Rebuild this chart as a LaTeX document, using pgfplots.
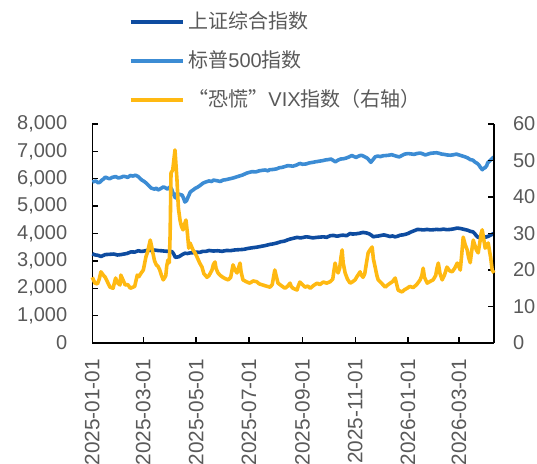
\documentclass[border=0pt]{standalone}
\usepackage{fontspec}
\setmainfont{Liberation Sans}
\newfontfamily\cjk{Noto Sans CJK SC}
\usepackage{pgfplots}
\pgfplotsset{compat=1.18}
\definecolor{sseblue}{RGB}{14,76,160}
\definecolor{spxblue}{RGB}{60,140,212}
\definecolor{vixyellow}{RGB}{255,185,18}
\definecolor{labelgray}{RGB}{89,89,89}
\pgfplotsset{
  common/.style={
    scale only axis, width=200.85pt, height=109.5pt,
    at={(0,0)}, anchor=south west,
    xmin=0, xmax=464.4,
    tick align=inside, major tick length=3pt,
    axis line style={-, line width=0.7pt, black},
    tick style={line width=0.7pt, black},
    ticklabel style={font=\fontsize{10}{12}\selectfont, text=labelgray},
    /pgf/number format/assume math mode=true,
    scaled ticks=false, clip=false,
  },
  sse/.style={color=sseblue, line width=1.8pt, line join=round},
  spx/.style={color=spxblue, line width=1.8pt, line join=round},
  vix/.style={color=vixyellow, line width=1.8pt, line join=round},
}
\begin{document}
\begin{tikzpicture}
\begin{axis}[common,
  ymin=0, ymax=8000, ytick={0,1000,...,8000},
  axis x line*=bottom, axis y line*=left,
  xtick={0,59,120,181,243,304,365,424},
  xticklabels={2025-01-01,2025-03-01,2025-05-01,2025-07-01,2025-09-01,2025-11-01,2026-01-01,2026-03-01},
  xticklabel style={rotate=90, anchor=east, xshift=-4.5pt, font=\fontsize{10.4}{12}\selectfont},
  yticklabel style={/pgf/number format/fixed, /pgf/number format/1000 sep={,}, xshift=-9pt},
]
\addplot[sse] coordinates {
(0,3260) (3,3220) (7,3200) (10,3160) (15,3230) (20,3240) (25,3250) (29,3215) (33,3230) (40,3270) (45,3330) (49,3320) (53,3370) (57,3345) (60,3360) (64,3390) (67,3380) (70,3400) (73,3390) (77,3375) (80,3370) (84,3355) (87,3350) (90,3345) (92,3340) (94,3260) (96,3130) (100,3150) (104,3230) (107,3280) (110,3270) (113,3290) (117,3300) (120,3320) (124,3310) (128,3350) (131,3345) (135,3380) (140,3360) (145,3370) (150,3350) (155,3380) (160,3375) (165,3400) (170,3410) (175,3420) (180,3455) (185,3480) (190,3500) (195,3530) (200,3560) (205,3600) (209,3620) (213,3650) (218,3700) (222,3720) (226,3770) (229,3800) (233,3830) (237,3860) (240,3840) (243,3850) (247,3880) (250,3870) (255,3840) (260,3860) (264,3870) (267,3880) (271,3860) (275,3920) (279,3930) (283,3900) (287,3930) (290,3940) (294,3920) (298,4000) (301,3980) (305,3990) (309,4010) (313,4040) (317,4020) (320,3990) (323,3930) (325,3880) (328,3900) (331,3910) (334,3930) (337,3950) (341,3920) (344,3890) (347,3910) (350,3880) (353,3900) (356,3940) (359,3950) (362,3970) (365,4000) (368,4050) (372,4100) (376,4150) (380,4140) (383,4130) (387,4150) (391,4130) (395,4140) (398,4150) (402,4140) (406,4160) (410,4140) (414,4150) (418,4170) (422,4200) (426,4180) (430,4150) (434,4120) (437,4080) (440,4060) (442,4000) (444,3920) (446,3860) (449,3870) (452,3880) (455,3870) (458,3900) (461,3950) (464,4000)
};
\addplot[spx] coordinates {
(0,5880) (2,5900) (4,5920) (7,5850) (9,5880) (11,5950) (13,5990) (15,6060) (18,6020) (20,6000) (23,6050) (27,6080) (30,6030) (33,6050) (36,6090) (38,6080) (41,6050) (44,6120) (47,6100) (50,6130) (53,6080) (55,6020) (57,5960) (60,5900) (62,5850) (65,5760) (68,5660) (70,5640) (72,5620) (74,5660) (76,5590) (79,5640) (82,5700) (84,5680) (87,5620) (90,5710) (92,5600) (93,5500) (96,5300) (97,5460) (99,5450) (102,5420) (104,5400) (106,5250) (107,5150) (109,5200) (110,5280) (112,5420) (113,5500) (115,5560) (117,5600) (119,5650) (121,5680) (124,5740) (128,5840) (131,5880) (135,5920) (138,5900) (140,5950) (144,5930) (148,5900) (151,5950) (155,5970) (159,6000) (163,6030) (166,6060) (170,6100) (174,6140) (178,6200) (181,6230) (185,6260) (189,6250) (193,6290) (197,6310) (200,6320) (203,6290) (205,6330) (209,6340) (213,6360) (216,6400) (220,6420) (223,6450) (226,6480) (229,6470) (232,6460) (236,6500) (240,6560) (243,6530) (247,6540) (251,6580) (255,6600) (258,6620) (262,6640) (266,6660) (270,6690) (273,6700) (276,6720) (279,6660) (281,6620) (284,6680) (287,6720) (290,6730) (293,6750) (297,6800) (300,6850) (302,6820) (305,6780) (308,6830) (311,6860) (314,6820) (318,6750) (320,6680) (322,6600) (324,6680) (327,6800) (330,6830) (333,6810) (336,6840) (340,6850) (343,6860) (346,6880) (349,6850) (352,6820) (355,6800) (358,6850) (361,6900) (365,6920) (368,6910) (372,6890) (375,6920) (379,6940) (382,6910) (385,6870) (388,6900) (391,6930) (394,6940) (398,6950) (401,6930) (404,6900) (407,6890) (410,6870) (414,6860) (418,6880) (421,6900) (425,6860) (428,6830) (431,6800) (434,6760) (437,6700) (440,6680) (442,6620) (445,6560) (447,6500) (449,6400) (451,6330) (452,6380) (454,6400) (456,6480) (457,6580) (459,6640) (461,6700) (463,6760) (464.4,6800)
};
\end{axis}
\begin{axis}[common,
  ymin=0, ymax=60, ytick={0,10,...,60},
  axis x line=none, axis y line*=right,
  yticklabel style={xshift=6pt},
  legend style={at={(0.075,1.55)}, anchor=north west, draw=none, fill=none,
    font=\fontsize{10}{12}\selectfont, text=labelgray, row sep=5.5pt},
  legend cell align=left,
  legend image code/.code={\draw[#1] (0pt,0pt) -- (26pt,0pt);},
]
\addlegendimage{sse}
\addlegendentry{{\cjk 上证综合指数}}
\addlegendimage{spx}
\addlegendentry{{\cjk 标普}500{\cjk 指数}}
\addplot[vix] coordinates {
(0,18) (3,16.4) (6,16.2) (8,17.5) (10,19.5) (13,18.5) (15,18) (18,16.5) (20.5,15.3) (24,15) (27,17.8) (29,16.5) (32,15.9) (33,18.6) (36,17) (38,15.9) (41,16) (44,15) (47,15.3) (49,15.5) (52,18.6) (54,18.2) (56,19) (59,20) (62,23.6) (64,25) (67,28.2) (69,26) (70,24.7) (72,22.5) (74,21.4) (76,21) (78,20) (80,18.5) (82,17.3) (84,18) (85,18.5) (86,21) (87.4,22.7) (89,22) (90,30) (91,46.6) (93,47.4) (95.6,52.9) (97.9,44.7) (99.5,37) (101.4,33.7) (103,32) (104.9,31) (106.5,32.5) (108.3,33.7) (110,30) (111.5,26) (113,27.4) (116.4,25.5) (118.7,24.7) (121,23.6) (124,22) (126.8,20.8) (129,19) (132.6,18) (135,18.5) (138.4,20) (140,21.5) (141.9,22.2) (143,20.5) (145.3,19.2) (148,18.5) (151,18) (154,17.6) (157,17.3) (160,18) (162.7,21.4) (165,20) (167.3,19.2) (169,20.5) (170.8,21.9) (172,19.5) (174.2,17.3) (178,16.8) (182,16.4) (186,17) (190,16.8) (193,16.2) (197,15.9) (201,15.6) (205.5,15.3) (208,16) (211,20) (212.5,18.5) (214.7,16.4) (218,15.8) (222.8,15) (226,15.6) (228.6,16.4) (230,15.5) (232,15) (234,14.8) (236.7,14.5) (238,15.5) (240,16.7) (243,16) (246,15.3) (249,15.6) (252,15) (256,15.8) (260,16.4) (263,16) (267,16.7) (271,16.4) (275,16.8) (278,17.5) (279.5,20) (280.7,21.9) (282,20.5) (284.2,19.2) (286,20.5) (287.5,23.5) (288.8,25.5) (290,22) (292.3,19.2) (295,17.5) (298.1,16.4) (301,16.8) (303.8,17.3) (306,18.2) (309.6,19.5) (311,18.6) (313,18) (315,19) (317,22) (318.9,24.7) (321,25.5) (323.5,26.3) (325,23) (327,20.8) (329,18.5) (330.5,17.3) (334,16.5) (338.6,15.3) (341,15.8) (344.4,16.4) (347,16.8) (350.2,17.8) (352,16) (353.6,14.5) (356,14.2) (358,14) (361,14.6) (364,15) (367,15.5) (371,15.2) (375,16) (379,17.3) (381,18.5) (382.5,20.5) (384,18) (387.2,16.4) (390,16.8) (394,17.3) (397,18.5) (398.5,20.5) (400,21.9) (402,19) (404.5,17.3) (407,18.5) (410,20.8) (413,19.8) (416,19.5) (419,20.5) (422,21.9) (424,20.8) (425.4,20) (427,24) (428.8,29) (431,27) (433.4,25.5) (435,23.5) (436.9,22) (438.5,25) (440.4,28.2) (442,27) (444,25.5) (446.1,24.7) (448,27.5) (449.5,30) (450.8,31) (452.5,28.5) (454.2,26) (456,26.5) (457.7,27.4) (459,25.5) (460.5,23.5) (462.3,20) (464.4,19.2)
};
\addlegendentry{{\cjk “恐慌”}VIX{\cjk 指数（右轴）}}
\end{axis}
\pgfresetboundingbox
\path (-46.15pt,-60pt) rectangle (222.35pt,171.5pt);
\end{tikzpicture}
\end{document}
